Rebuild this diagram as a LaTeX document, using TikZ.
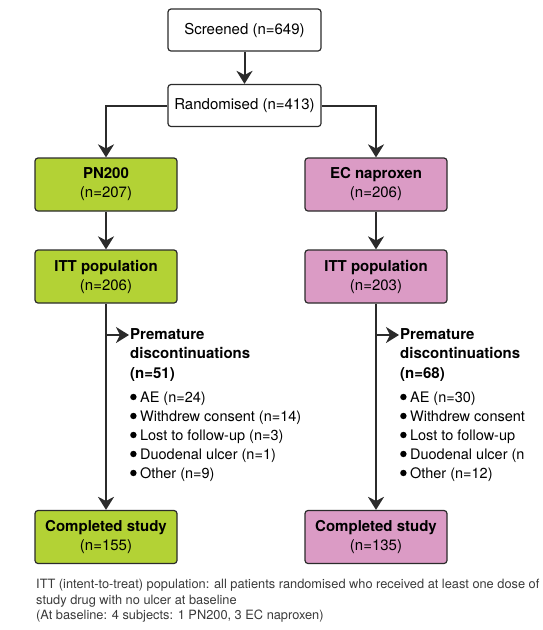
\documentclass[tikz,border=0pt]{standalone}
\usepackage{fontspec}
\setmainfont{TeX Gyre Heros}
\usetikzlibrary{arrows.meta}
\definecolor{pngreen}{HTML}{B3D235}
\definecolor{ecpink}{HTML}{DB9BC5}
\definecolor{edgegray}{HTML}{2B2B2B}
\definecolor{notegray}{HTML}{3A3A3A}
\newcommand{\dropdot}{\tikz[baseline=-5.3pt]\fill (0,0) circle (3.2pt);\hspace{3.5pt}}
\tikzset{
  box/.style={draw=edgegray, line width=1.2pt, rounded corners=3pt, align=center,
    minimum width=142pt, minimum height=53pt, inner sep=2pt,
    font=\fontsize{15}{19}\selectfont},
  topbox/.style={box, fill=white, minimum width=153pt, minimum height=42pt},
  pnbox/.style={box, fill=pngreen},
  ecbox/.style={box, fill=ecpink},
  arr/.style={draw=edgegray, line width=2pt, -{Stealth[length=13pt,width=16pt,inset=4pt]}},
  drophead/.style={anchor=north west, inner sep=0pt, align=left, font=\bfseries\fontsize{15}{19.3}\selectfont},
  droplist/.style={anchor=north west, inner sep=0pt, align=left, font=\fontsize{14.5}{19}\selectfont},
}
\begin{document}
\begin{tikzpicture}[x=1pt,y=-1pt]
\pgfmathsetmacro{\colL}{106}
\pgfmathsetmacro{\colR}{376}
\useasboundingbox (0,0) rectangle (542,630);
% top of the chart
\node[topbox] (screened) at (244.5,30) {Screened (n=649)};
\node[topbox] (rand) at (244.5,105.5) {Randomised (n=413)};
% two arms
\node[pnbox] (pn) at (\colL,184.5) {\textbf{PN200}\\(n=207)};
\node[ecbox] (ec) at (\colR,184.5) {\textbf{EC naproxen}\\(n=206)};
\node[pnbox] (ittpn) at (\colL,276.5) {\textbf{ITT population}\\(n=206)};
\node[ecbox] (ittec) at (\colR,276.5) {\textbf{ITT population}\\(n=203)};
\node[pnbox] (donepn) at (\colL,537) {\textbf{Completed study}\\(n=155)};
\node[ecbox] (doneec) at (\colR,537) {\textbf{Completed study}\\(n=135)};
% discontinuations
\node[drophead] (headpn) at (130,328.5) {Premature\\discontinuations\\(n=51)};
\node[drophead] (headec) at (400,328.5) {Premature\\discontinuations\\(n=68)};
\node[droplist] (listpn) at (130,391.5) {\dropdot AE (n=24)\\\dropdot Withdrew consent (n=14)\\\dropdot Lost to follow-up (n=3)\\\dropdot Duodenal ulcer (n=1)\\\dropdot Other (n=9)};
\node[droplist] (listec) at (400,391.5) {\dropdot AE (n=30)\\\dropdot Withdrew consent\\\dropdot Lost to follow-up\\\dropdot Duodenal ulcer (n\\\dropdot Other (n=12)};
\coordinate (tippn) at (129,335);
\coordinate (tipec) at (399,335);
% connectors
\draw[arr] (screened) -- (rand);
\draw[arr] (rand.west) -| (pn.north);
\draw[arr] (rand.east) -| (ec.north);
\draw[arr] (pn) -- (ittpn);
\draw[arr] (ec) -- (ittec);
\draw[arr] (ittpn) -- (donepn);
\draw[arr] (ittec) -- (doneec);
\draw[arr] (ittpn.south |- tippn) -- (tippn);
\draw[arr] (ittec.south |- tipec) -- (tipec);
% footnote
\node[anchor=north west, inner sep=0pt, align=left, text=notegray, font=\fontsize{12.8}{15.5}\selectfont] (note) at (36,579)
  {ITT (intent-to-treat) population: all patients randomised who received at least one dose of\\study drug with no ulcer at baseline\\(At baseline: 4 subjects: 1 PN200, 3 EC naproxen)};
\end{tikzpicture}
\end{document}
